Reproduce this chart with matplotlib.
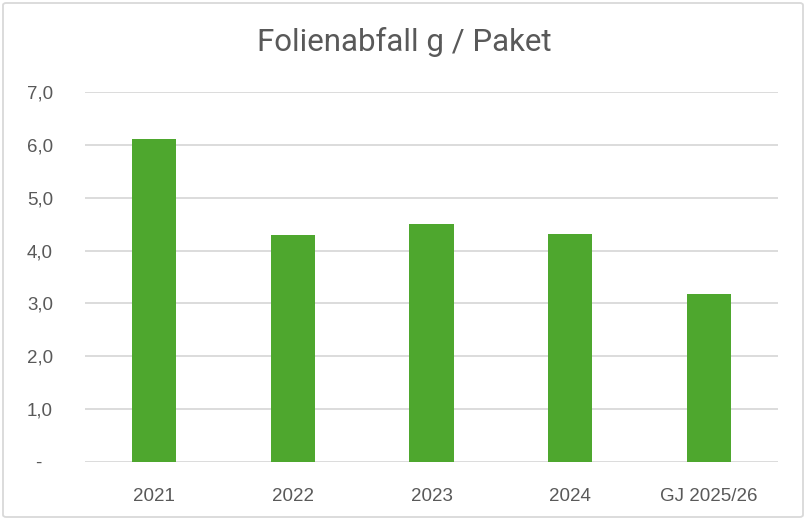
import matplotlib
matplotlib.use('Agg')
import matplotlib.pyplot as plt
from matplotlib.patches import FancyBboxPatch
from matplotlib.ticker import FuncFormatter

# data
categories = ['2021', '2022', '2023', '2024', 'GJ 2025/26']
values = [6.12, 4.29, 4.50, 4.31, 3.17]
y_ticks = [0, 1, 2, 3, 4, 5, 6, 7]

bar_color = '#4EA72E'
text_color = '#595959'
grid_color = '#D9D9D9'

fig = plt.figure(figsize=(8.08, 5.2), dpi=100)
ax = fig.add_axes([85 / 808, 58 / 520, 693 / 808, 370 / 520])

# outer frame like the Excel chart area
frame = FancyBboxPatch((3 / 808, 3 / 520), 800 / 808, 514 / 520,
                       boxstyle='round,pad=0,rounding_size=0.004',
                       transform=fig.transFigure, facecolor='none',
                       edgecolor=grid_color, linewidth=1.3)
fig.patches.append(frame)

x = range(len(categories))
ax.bar(x, values, width=0.32, color=bar_color, zorder=3)

ax.set_xlim(-0.5, len(categories) - 0.5)
ax.set_ylim(0, 7)
ax.set_yticks(y_ticks)


def fmt(v, pos):
    if v == 0:
        return '-  '
    return f'{v:.1f}'.replace('.', ',')


ax.yaxis.set_major_formatter(FuncFormatter(fmt))
ax.set_xticks(list(x))
ax.set_xticklabels(categories)

ax.grid(axis='y', color=grid_color, linewidth=1.3, zorder=0)
for s in ax.spines.values():
    s.set_visible(False)
ax.tick_params(axis='both', length=0, colors=text_color, labelsize=13.5)
ax.tick_params(axis='y', pad=23)
ax.tick_params(axis='x', pad=19)
for lab in ax.get_xticklabels() + ax.get_yticklabels():
    lab.set_fontfamily('Liberation Sans')

fig.text(0.5, 1 - 42 / 520, 'Folienabfall g / Paket', ha='center', va='center',
         fontsize=22.5, color=text_color, family='Roboto')

fig.savefig('out.png', dpi=100)
